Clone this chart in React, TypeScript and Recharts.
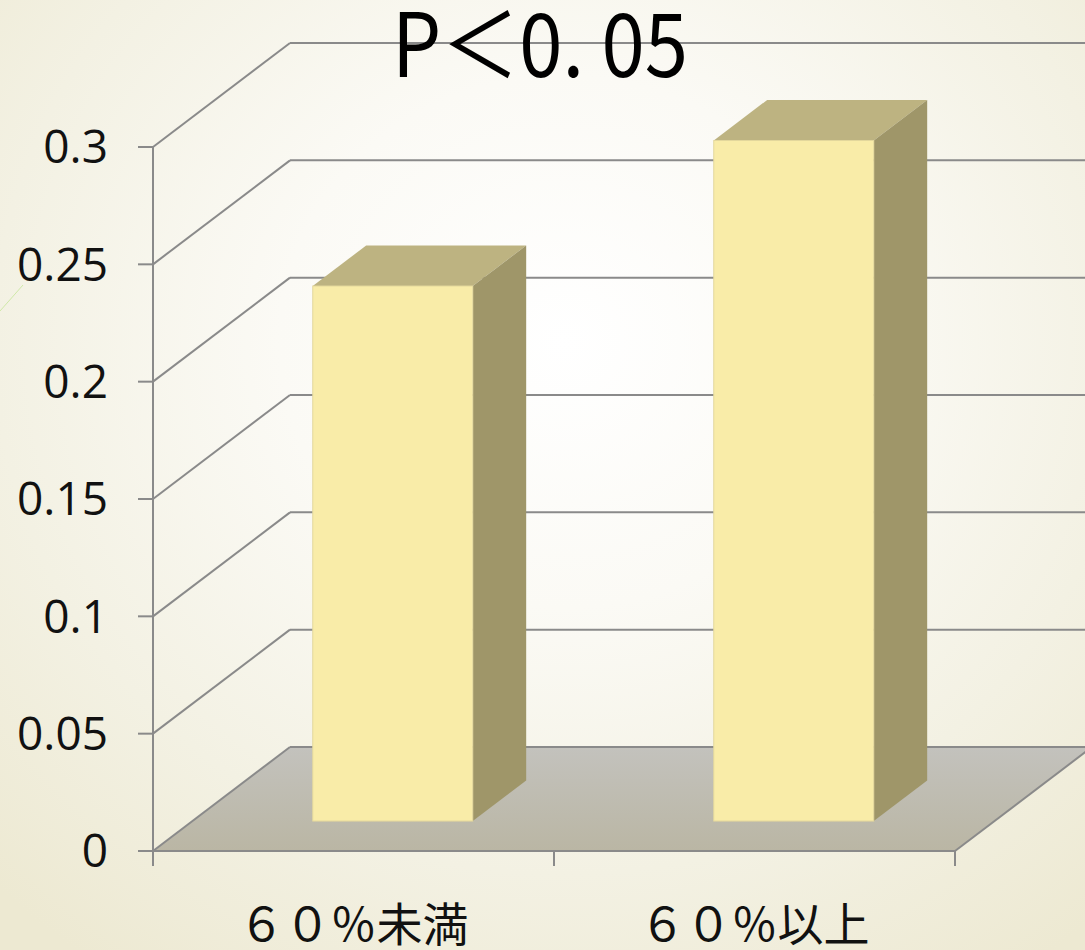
import React from 'react';
import { BarChart, Bar, XAxis, YAxis, CartesianGrid, Customized } from 'recharts';

// Categories, values and axis ticks
const categories = ['６０％未満', '６０％以上'];
const values = [0.228, 0.29];
const yTicks = [0, 0.05, 0.1, 0.15, 0.2, 0.25, 0.3];
const title = 'P＜0. 05';

const data = categories.map((name, i) => ({ name, value: values[i] }));

// Oblique projection of the chart box: how far the back wall sits from the front plane
const WALL_DX = 137;
const WALL_DY = 104;
// Where the bars stand inside the box depth, and how deep they are
const BAR_FRONT = 0.288;
const BAR_DEPTH = 0.39;

const GRID = '#8a8a8a';
const FRONT = '#f9eca8';
const TOP = '#bdb381';
const SIDE = '#9f9669';

const renderGridLine = (props: any) => {
  const { x1, y1, x2, index, horizontalPoints } = props;
  const bottom = Array.isArray(horizontalPoints) ? Math.max(...horizontalPoints) : props.y + props.height;
  const bx = x1 + WALL_DX;
  const by = y1 - WALL_DY;
  const isFloor = Math.abs(y1 - bottom) < 0.5;
  if (isFloor) {
    const n = categories.length;
    const step = (x2 - x1) / n;
    return (
      <g key={`grid-${index}`}>
        <defs>
          <linearGradient id="floorFill" x1="0" y1="0" x2="0" y2="1">
            <stop offset="0%" stopColor="#c3c2bd" />
            <stop offset="100%" stopColor="#bab6a4" />
          </linearGradient>
        </defs>
        <polygon
          points={`${x1},${y1} ${x2},${y1} ${x2 + WALL_DX},${by} ${bx},${by}`}
          fill="url(#floorFill)"
        />
        <line x1={x1} y1={y1} x2={bx} y2={by} stroke={GRID} strokeWidth={2} />
        <line x1={bx} y1={by} x2={x2 + WALL_DX} y2={by} stroke={GRID} strokeWidth={2} />
        <line x1={x2} y1={y1} x2={x2 + WALL_DX} y2={by} stroke={GRID} strokeWidth={2} />
        <line x1={x1} y1={y1} x2={x2} y2={y1} stroke={GRID} strokeWidth={2} />
        {Array.from({ length: n + 1 }, (_, i) => (
          <line
            key={`xt-${i}`}
            x1={x1 + i * step}
            y1={y1}
            x2={x1 + i * step}
            y2={y1 + 15}
            stroke={GRID}
            strokeWidth={2}
          />
        ))}
      </g>
    );
  }
  return (
    <g key={`grid-${index}`}>
      <line x1={x1} y1={y1} x2={bx} y2={by} stroke={GRID} strokeWidth={2} />
      <line x1={bx} y1={by} x2={x2 + WALL_DX} y2={by} stroke={GRID} strokeWidth={2} />
    </g>
  );
};

const Box3D = (props: any) => {
  const { x, y, width, height } = props;
  if (!height || height <= 0) return null;
  const ox = BAR_FRONT * WALL_DX;
  const oy = BAR_FRONT * WALL_DY;
  const sx = BAR_DEPTH * WALL_DX;
  const sy = BAR_DEPTH * WALL_DY;
  const fx = x + ox;
  const fy = y - oy;
  const r = fx + width;
  const b = fy + height;
  return (
    <g>
      <polygon
        points={`${fx},${fy} ${r},${fy} ${r + sx},${fy - sy} ${fx + sx},${fy - sy}`}
        fill={TOP}
      />
      <polygon
        points={`${r},${fy} ${r + sx},${fy - sy} ${r + sx},${b - sy} ${r},${b}`}
        fill={SIDE}
      />
      <rect x={fx} y={fy} width={width} height={height} fill={FRONT} stroke="#e3d79c" strokeWidth={1} />
    </g>
  );
};

const XTick = (props: any) => {
  const { x, y, payload } = props;
  return (
    <text
      x={x}
      y={y}
      dy={90}
      textAnchor="middle"
      fontSize={46}
      fontFamily="'Noto Sans CJK JP', sans-serif"
      fill="#111"
    >
      {payload.value}
    </text>
  );
};

const Title = () => (
  <g>
    <line x1={0} y1={311} x2={23} y2={285} stroke="#cfe8a8" strokeWidth={1} />
    <text
      x={540}
      y={77}
      textAnchor="middle"
      fontSize={88}
      fontFamily="'Noto Sans CJK JP', sans-serif"
      fill="#000"
      textLength={296}
      lengthAdjust="spacingAndGlyphs"
    >
      {title}
    </text>
  </g>
);

export default function App() {
  return (
    <div
      style={{
        position: 'absolute',
        left: 0,
        top: 0,
        width: 1085,
        height: 950,
        overflow: 'hidden',
        background:
          'radial-gradient(ellipse 75% 80% at 52% 36%, #ffffff 0%, #fbfaf5 35%, #f3f1e3 70%, #ede9d2 100%)',
      }}
    >
      <BarChart
        width={1085}
        height={950}
        data={data}
        margin={{ top: 147, right: 130, bottom: 0, left: 0 }}
        barCategoryGap="30%"
      >
        <CartesianGrid horizontal={renderGridLine} vertical={false} />
        <XAxis
          dataKey="name"
          height={99}
          axisLine={false}
          tickLine={false}
          tickSize={0}
          tickMargin={0}
          tick={<XTick />}
          interval={0}
        />
        <YAxis
          width={153}
          domain={[0, 0.3]}
          ticks={yTicks}
          interval={0}
          tickFormatter={(v: number) => String(v)}
          axisLine={{ stroke: GRID, strokeWidth: 2 }}
          tickLine={{ stroke: GRID, strokeWidth: 2 }}
          tickSize={15}
          tickMargin={30}
          tick={{ fontSize: 46, fontFamily: "'Open Sans', sans-serif", fill: '#111' }}
        />
        <Bar dataKey="value" isAnimationActive={false} shape={(p: any) => <Box3D {...p} />} />
        <Customized component={<Title />} />
      </BarChart>
    </div>
  );
}
